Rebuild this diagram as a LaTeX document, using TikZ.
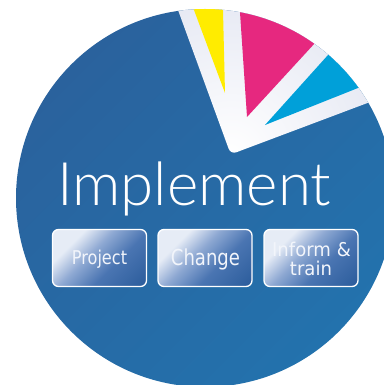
\documentclass[tikz,border=0pt]{standalone}
\usepackage{fontspec}
\setmainfont{DejaVu Sans}
\newfontfamily\thinfont{Lato Light}
\usepackage{graphicx}
\definecolor{bg}{HTML}{2372AD}
\definecolor{bgdark}{HTML}{2A629D}
\definecolor{lav}{HTML}{D0D5E9}
\definecolor{ylw}{HTML}{FFEC00}
\definecolor{mag}{HTML}{E6287F}
\definecolor{cyn}{HTML}{00A0D9}
\definecolor{btnlight}{HTML}{E6ECF6}
\definecolor{btnlmid}{HTML}{8FA9D3}
\definecolor{btnmid}{HTML}{4A75B2}
\definecolor{btndark}{HTML}{2C5D9C}
\definecolor{btntext}{HTML}{F2F5FB}
\pgfdeclarehorizontalshading{btnshade}{100bp}{color(0bp)=(btnlight); color(30bp)=(btnlight); color(44bp)=(btnlmid); color(60bp)=(btnmid); color(84bp)=(btndark); color(100bp)=(btndark)}
\begin{document}
\begin{tikzpicture}[x=1pt,y=-1pt,
  btn/.style={draw=white, line width=1.3pt, rounded corners=6pt,
    minimum width=94pt, minimum height=57pt, inner sep=0pt,
    shade, shading=btnshade, shading angle=-45},
  btnlabel/.style={text=btntext, inner sep=0pt, anchor=base}]
\useasboundingbox (0,0) rectangle (383,385);
\fill[white] (0,0) rectangle (383,385);
\coordinate (c) at (205,198);
\begin{scope}
  \clip (c) circle (189);
  \shade[top color=bgdark, bottom color=bg, shading angle=45] (c) circle (189);
  % white exploded band
  \begin{scope}
    \clip (170.7,-10) {[rounded corners=6pt] -- (230.7,154.4) -- (410,87)} -- (410,-10) -- cycle;
    \shade[inner color=white, outer color=lav] (230.7,154.4) circle (300);
  \end{scope}
  % coloured slices
  \fill[ylw] (186.5,-10) -- (222.5,-10) -- (225,93) -- cycle;
  \fill[mag] (247,117) -- (238.5,-10) -- (383,-31) -- cycle;
  \fill[cyn] (265,125) -- (391,-15) -- (404.5,69.5) -- cycle;
\end{scope}
% title
\node[text=white, inner sep=0pt, anchor=base west, font=\thinfont\fontsize{60}{60}\selectfont] (title) at (57,205) {Implement};
% buttons
\node[btn] (b1) at (99.5,258) {};
\node[btn] (b2) at (205,258) {};
\node[btn] (b3) at (311,258) {};
\node[btnlabel, font=\fontsize{19}{19}\selectfont] (l1) at (99.5,264.5) {\scalebox{0.85}[1]{Project}};
\node[btnlabel, font=\fontsize{22}{22}\selectfont] (l2) at (205.5,265.5) {\scalebox{0.82}[1]{Change}};
\node[btnlabel, font=\fontsize{19}{19}\selectfont] (l3a) at (311.5,256.7) {\scalebox{0.95}[1]{Inform \&}};
\node[btnlabel, font=\fontsize{19}{19}\selectfont] (l3b) at (311,275) {\scalebox{0.95}[1]{train}};
\end{tikzpicture}
\end{document}
